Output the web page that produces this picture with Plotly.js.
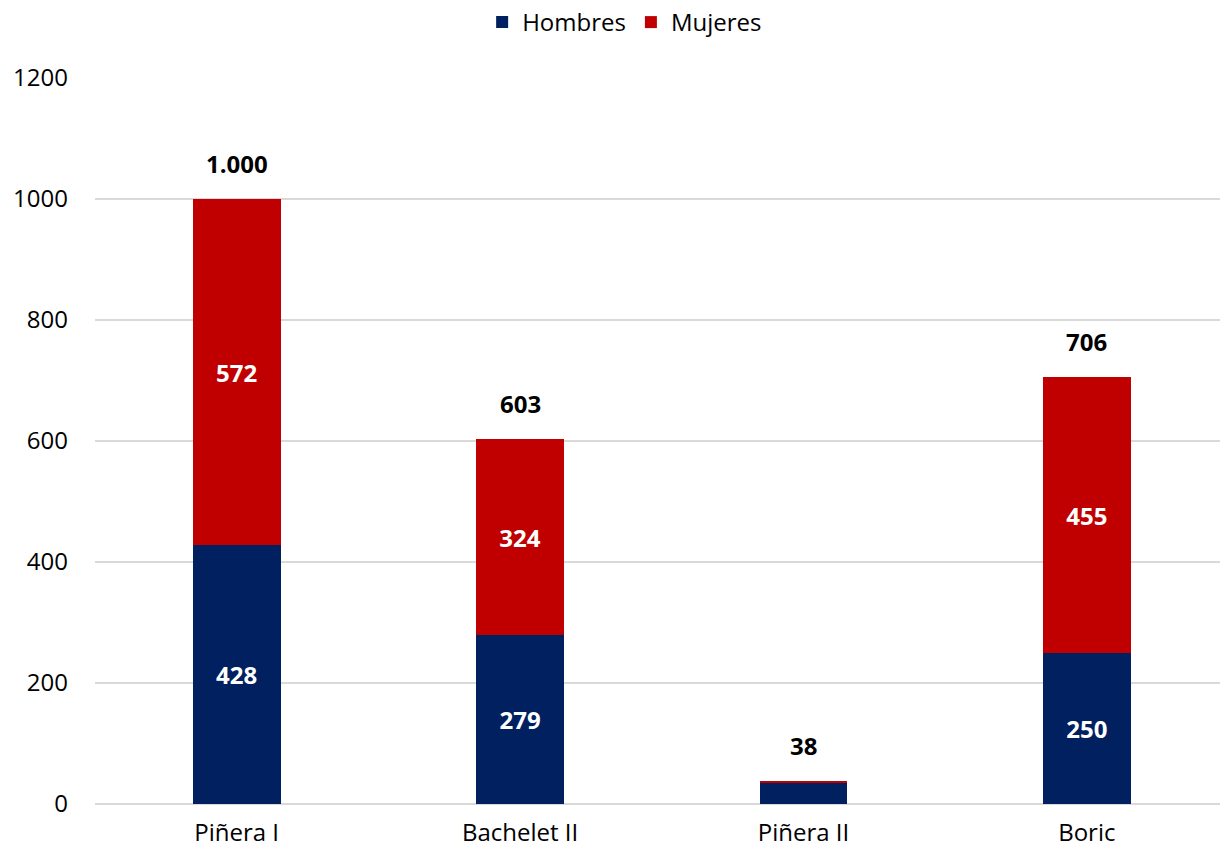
<!DOCTYPE html>
<html><head><meta charset="utf-8">
<script src="https://cdn.plot.ly/plotly-3.0.1.min.js"></script>
<style>body{margin:0;background:#fff}#chart{width:1220px;height:850px}</style>
</head><body><div id="chart"></div>
<script>
const categories = ['Piñera I', 'Bachelet II', 'Piñera II', 'Boric'];
const hombres = [428, 279, 34, 250];
const mujeres = [572, 324, 4, 455];
const totals = [1000, 603, 38, 706];

function fmt(n){ return String(n).replace(/\B(?=(\d{3})+(?!\d))/g, '.'); }
const font = 'Open Sans, Lato, sans-serif';

const inside = v => v >= 50 ? String(v) : '';
const traces = [
  {type:'bar', name:'Hombres', x:categories, y:hombres, marker:{color:'#002060'},
   text:hombres.map(inside), textposition:'inside', insidetextanchor:'middle',
   textfont:{color:'#fff', size:24, family:font, weight:'bold'}, width:0.31, hoverinfo:'y'},
  {type:'bar', name:'Mujeres', x:categories, y:mujeres, marker:{color:'#C00000'},
   text:mujeres.map(inside), textposition:'inside', insidetextanchor:'middle',
   textfont:{color:'#fff', size:24, family:font, weight:'bold'}, width:0.31, hoverinfo:'y'}
];

const annotations = categories.map((c,i)=>({
  x:c, y:totals[i], xref:'x', yref:'y', text:'<b>'+fmt(totals[i])+'</b>', showarrow:false,
  yanchor:'bottom', yshift:17, font:{size:24, color:'#000', family:font}
}));

const layout = {
  width:1220, height:850, barmode:'stack',
  margin:{l:95, r:0, t:78, b:46},
  paper_bgcolor:'#fff', plot_bgcolor:'#fff',
  font:{family:font, size:24, color:'#000'},
  showlegend:true,
  legend:{orientation:'h', xref:'container', yref:'container', x:0.512, xanchor:'center', y:1.0, yanchor:'top',
          font:{size:24, color:'#000', family:font}, itemwidth:30, traceorder:'normal'},
  xaxis:{type:'category', range:[-0.5, 3.47], showgrid:false, zeroline:false, showline:false, ticks:'',
         tickfont:{size:24, color:'#000'}, ticklabelstandoff:12},
  yaxis:{range:[0,1200], dtick:200, showgrid:true, gridcolor:'#d9d9d9', gridwidth:1.3, zeroline:true, zerolinecolor:'#d9d9d9', zerolinewidth:1.3,
         showline:false, tickfont:{size:24, color:'#000'}, ticklabelstandoff:26, tickformat:'d'},
  annotations:annotations
};
Plotly.newPlot('chart', traces, layout, {displayModeBar:false, staticPlot:true});
</script></body></html>
